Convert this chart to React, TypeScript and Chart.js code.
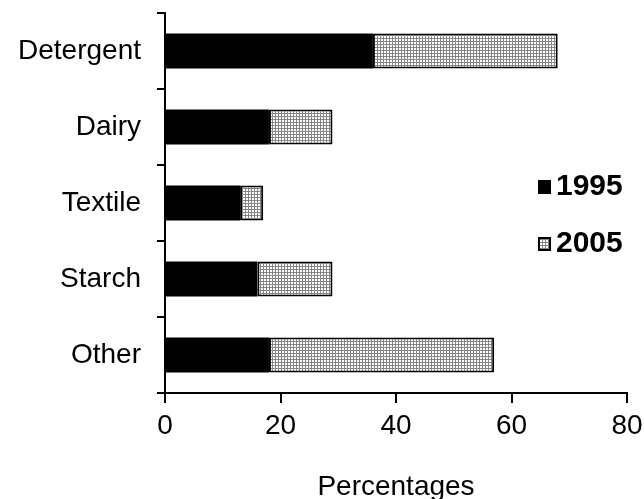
import { useEffect, useRef } from 'react';
import { Chart, registerables } from 'chart.js';

Chart.register(...registerables);

// Share of each sector, in percent
const categories = ['Detergent', 'Dairy', 'Textile', 'Starch', 'Other'];
const share1995 = [36, 18, 13, 16, 18];
const share2005 = [32, 11, 4, 13, 39];
const xTickValues = [0, 20, 40, 60, 80];
const seriesNames = ['1995', '2005'];
const xTitle = 'Percentages';

const FONT = '"Liberation Sans", Arial, Helvetica, sans-serif';

// Fine stipple grid used for the 2005 segments
function makeStipple(): CanvasPattern | string {
  const tile = document.createElement('canvas');
  tile.width = 3;
  tile.height = 3;
  const c = tile.getContext('2d');
  if (!c) return '#c0c0c0';
  c.fillStyle = '#ffffff';
  c.fillRect(0, 0, 3, 3);
  c.fillStyle = '#858585';
  c.fillRect(0, 2, 3, 1);
  c.fillRect(2, 0, 1, 3);
  return c.createPattern(tile, 'repeat') || '#c0c0c0';
}

export default function App() {
  const canvasRef = useRef<HTMLCanvasElement | null>(null);

  useEffect(() => {
    const canvas = canvasRef.current;
    if (!canvas) return;
    const stipple = makeStipple();

    // Legend drawn inside the plot, to the right of the bars
    const sideLegend = {
      id: 'sideLegend',
      afterDraw(chart: Chart) {
        const { ctx, chartArea } = chart;
        const boxX = chartArea.right - 89;
        const fills: (string | CanvasPattern)[] = ['#000000', stipple];
        ctx.save();
        ctx.font = `bold 30px ${FONT}`;
        ctx.textBaseline = 'alphabetic';
        ctx.textAlign = 'left';
        seriesNames.forEach((name, i) => {
          const top = chartArea.top + 167 + i * 57;
          ctx.fillStyle = fills[i];
          ctx.fillRect(boxX, top, 13, 14);
          if (i === 1) {
            ctx.strokeStyle = '#000';
            ctx.lineWidth = 2;
            ctx.strokeRect(boxX + 1, top + 1, 11, 12);
          }
          ctx.fillStyle = '#000';
          ctx.fillText(name, boxX + 18, top + 15);
        });
        ctx.restore();
      },
    };

    const chart = new Chart(canvas, {
      type: 'bar',
      data: {
        labels: categories,
        datasets: [
          {
            label: seriesNames[0],
            data: share1995,
            backgroundColor: '#000000',
            borderWidth: 0,
            barPercentage: 0.46,
            categoryPercentage: 1,
          },
          {
            label: seriesNames[1],
            data: share2005,
            backgroundColor: stipple as any,
            borderColor: '#000000',
            borderWidth: 2,
            borderSkipped: false,
            barPercentage: 0.46,
            categoryPercentage: 1,
          },
        ],
      },
      options: {
        indexAxis: 'y',
        responsive: false,
        animation: false,
        devicePixelRatio: 1,
        layout: { padding: { top: 13, right: 17, left: 0, bottom: 0 } },
        plugins: {
          legend: { display: false },
          tooltip: { enabled: false },
        },
        scales: {
          x: {
            type: 'linear',
            stacked: true,
            min: 0,
            max: 80,
            afterBuildTicks: (scale: any) => {
              scale.ticks = xTickValues.map((v) => ({ value: v }));
            },
            afterFit: (scale: any) => {
              scale.height = 106;
              scale.paddingLeft = 0;
              scale.paddingRight = 0;
            },
            grid: {
              drawOnChartArea: false,
              drawTicks: true,
              tickLength: 10,
              color: '#000',
              lineWidth: 2,
            },
            border: { display: true, color: '#000', width: 2 },
            ticks: {
              color: '#000',
              padding: 6,
              font: { family: FONT, size: 28 },
              maxRotation: 0,
            },
            title: {
              display: true,
              text: xTitle,
              color: '#000',
              font: { family: FONT, size: 28, lineHeight: 0.85 },
              padding: { top: 0, bottom: 0 },
            },
          },
          y: {
            type: 'category',
            stacked: true,
            offset: true,
            afterFit: (scale: any) => {
              scale.width = 165;
              scale.paddingTop = 0;
              scale.paddingBottom = 0;
            },
            grid: {
              offset: true,
              drawOnChartArea: false,
              drawTicks: true,
              tickLength: 8,
              color: '#000',
              lineWidth: 2,
            },
            border: { display: true, color: '#000', width: 2 },
            ticks: {
              color: '#000',
              padding: 16,
              font: { family: FONT, size: 28 },
            },
          },
        },
      },
      plugins: [sideLegend],
    });

    return () => chart.destroy();
  }, []);

  return (
    <div style={{ position: 'absolute', left: 0, top: 0, width: 644, height: 499, background: '#fff' }}>
      <canvas ref={canvasRef} width={644} height={499} />
    </div>
  );
}
